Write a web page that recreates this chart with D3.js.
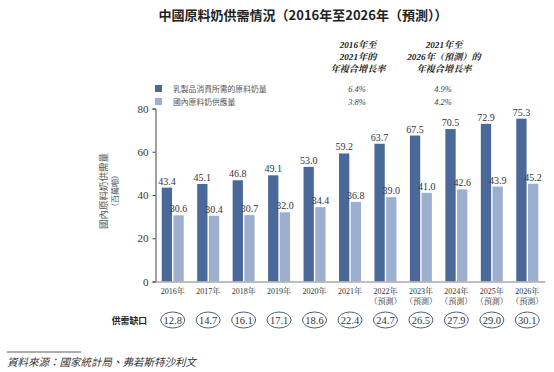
<!DOCTYPE html>
<html>
<head>
<meta charset="utf-8">
<script src="https://cdn.jsdelivr.net/npm/d3@7"></script>
<style>
  body { margin: 0; background: #fff; }
  svg { display: block; }
</style>
</head>
<body>
<svg width="554" height="372"></svg>
<script>
// data
var years = ["2016年", "2017年", "2018年", "2019年", "2020年", "2021年", "2022年", "2023年", "2024年", "2025年", "2026年"];
var forecast = [false, false, false, false, false, false, true, true, true, true, true];
var demand = [43.4, 45.1, 46.8, 49.1, 53.0, 59.2, 63.7, 67.5, 70.5, 72.9, 75.3];
var supply = [30.6, 30.4, 30.7, 32.0, 34.4, 36.8, 39.0, 41.0, 42.6, 43.9, 45.2];
var gap = [12.8, 14.7, 16.1, 17.1, 18.6, 22.4, 24.7, 26.5, 27.9, 29.0, 30.1];
var seriesNames = ["乳製品消費所需的原料奶量", "國內原料奶供應量"];
var cagr1 = ["6.4%", "3.8%"];
var cagr2 = ["4.9%", "4.2%"];
var yTicks = [0, 20, 40, 60, 80];

var svg = d3.select("svg");
var serif = "'Liberation Serif', 'Noto Serif CJK TC', 'Noto Sans CJK TC', serif";
var cjk = "'Noto Sans CJK TC', sans-serif";
var dark = "#4a6898", light = "#9dafcf";

var x0 = d3.scaleBand().domain(years).range([155, 545]).paddingInner(0.38).paddingOuter(0.19);
var x1 = d3.scaleBand().domain([0, 1]).range([0, x0.bandwidth()]).paddingInner(0.12);
var y = d3.scaleLinear().domain([0, 80]).range([281.5, 108.5]);

// title
svg.append("text")
  .attr("x", 303).attr("y", 20)
  .attr("text-anchor", "middle")
  .style("font-family", cjk).style("font-size", "13px").style("font-weight", "bold")
  .style("fill", "#222")
  .text("中國原料奶供需情況（2016年至2026年（預測））");

// cagr headers
var hdr1 = ["2016年至", "2021年的", "年複合增長率"];
var hdr2 = ["2021年至", "2026年（預測）的", "年複合增長率"];
[[358, hdr1], [444, hdr2]].forEach(function (h) {
  svg.append("g").selectAll("text").data(h[1]).enter().append("text")
    .attr("x", h[0]).attr("y", function (d, i) { return 48 + i * 12; })
    .attr("text-anchor", "middle")
    .style("font-family", serif).style("font-size", "9.2px")
    .style("font-style", "italic").style("font-weight", "bold").style("fill", "#222")
    .text(function (d) { return d; });
});

// legend
var leg = svg.append("g");
seriesNames.forEach(function (n, i) {
  var ly = 88.5 + i * 13;
  leg.append("rect").attr("x", 155).attr("y", ly - 3.5).attr("width", 7).attr("height", 7)
    .attr("fill", i == 0 ? dark : light);
  leg.append("text").attr("x", 173).attr("y", ly + 3)
    .style("font-family", cjk).style("font-size", "7.8px").style("fill", "#555").text(n);
  leg.append("text").attr("x", 357).attr("y", ly + 3).attr("text-anchor", "middle")
    .style("font-family", serif).style("font-size", "8.5px").style("font-style", "italic").style("fill", "#444")
    .text(cagr1[i]);
  leg.append("text").attr("x", 443).attr("y", ly + 3).attr("text-anchor", "middle")
    .style("font-family", serif).style("font-size", "8.5px").style("font-style", "italic").style("fill", "#444")
    .text(cagr2[i]);
});

// y axis
var yAxis = svg.append("g")
  .attr("transform", "translate(155.5,0)")
  .call(d3.axisLeft(y).tickValues(yTicks).tickSize(3).tickPadding(4));
yAxis.select(".domain").attr("stroke", "#444");
yAxis.selectAll(".tick line").attr("stroke", "#444");
yAxis.selectAll("text").style("font-family", serif).style("font-size", "11px").style("fill", "#333");

// y title
var yt = svg.append("g").attr("transform", "translate(107,191) rotate(-90)");
yt.append("text").attr("text-anchor", "middle")
  .style("font-family", cjk).style("font-size", "9.5px").style("fill", "#555").text("國內原料奶供需量");
yt.append("text").attr("y", 11).attr("text-anchor", "middle")
  .style("font-family", cjk).style("font-size", "8px").style("fill", "#555").text("（百萬噸）");

// bars
var groups = svg.append("g").selectAll("g").data(years).enter().append("g")
  .attr("transform", function (d) { return "translate(" + x0(d) + ",0)"; });

groups.each(function (d, i) {
  var g = d3.select(this);
  [demand[i], supply[i]].forEach(function (v, k) {
    g.append("rect")
      .attr("x", x1(k)).attr("y", y(v))
      .attr("width", x1.bandwidth()).attr("height", y(0) - y(v))
      .attr("fill", k == 0 ? dark : light);
    g.append("text")
      .attr("x", x1(k) + x1.bandwidth() / 2).attr("y", y(v) - 3)
      .attr("text-anchor", "middle")
      .style("font-family", serif).style("font-size", "10px").style("fill", "#333")
      .text(v.toFixed(1));
  });
});

// x axis
var xAxis = svg.append("g")
  .attr("transform", "translate(0," + y(0) + ")")
  .call(d3.axisBottom(x0).tickSize(0).tickFormat(""));
xAxis.select(".domain").attr("stroke", "#aaa").attr("stroke-width", 1.5);

var xl = svg.append("g").selectAll("g").data(years).enter().append("g")
  .attr("transform", function (d) { return "translate(" + (x0(d) + x0.bandwidth() / 2) + ",0)"; });
xl.append("text").attr("y", 294).attr("text-anchor", "middle")
  .style("font-family", serif).style("font-size", "8px").style("fill", "#333")
  .text(function (d) { return d; });
xl.filter(function (d, i) { return forecast[i]; })
  .append("text").attr("y", 304).attr("text-anchor", "middle")
  .style("font-family", serif).style("font-size", "8px").style("fill", "#333")
  .text("（預測）");

// supply gap row
svg.append("text").attr("x", 147).attr("y", 323.5).attr("text-anchor", "end")
  .style("font-family", cjk).style("font-size", "8.8px").style("font-weight", "bold").style("fill", "#222")
  .text("供需缺口");
var gg = svg.append("g").selectAll("g").data(gap).enter().append("g")
  .attr("transform", function (d, i) { return "translate(" + (x0(years[i]) + x0.bandwidth() / 2) + ",320)"; });
gg.append("ellipse").attr("rx", 12).attr("ry", 8)
  .attr("fill", "#fff").attr("stroke", "#4a6080").attr("stroke-width", 1);
gg.append("text").attr("y", 3.8).attr("text-anchor", "middle")
  .style("font-family", serif).style("font-size", "10.5px").style("fill", "#333")
  .text(function (d) { return d.toFixed(1); });

// source
svg.append("line").attr("x1", 7).attr("x2", 81).attr("y1", 352).attr("y2", 352)
  .attr("stroke", "#333").attr("stroke-width", 0.8);
svg.append("text").attr("x", 7).attr("y", 366)
  .style("font-family", cjk).style("font-size", "10.5px").style("font-style", "italic").style("fill", "#333")
  .text("資料來源：國家統計局、弗若斯特沙利文");
</script>
</body>
</html>
